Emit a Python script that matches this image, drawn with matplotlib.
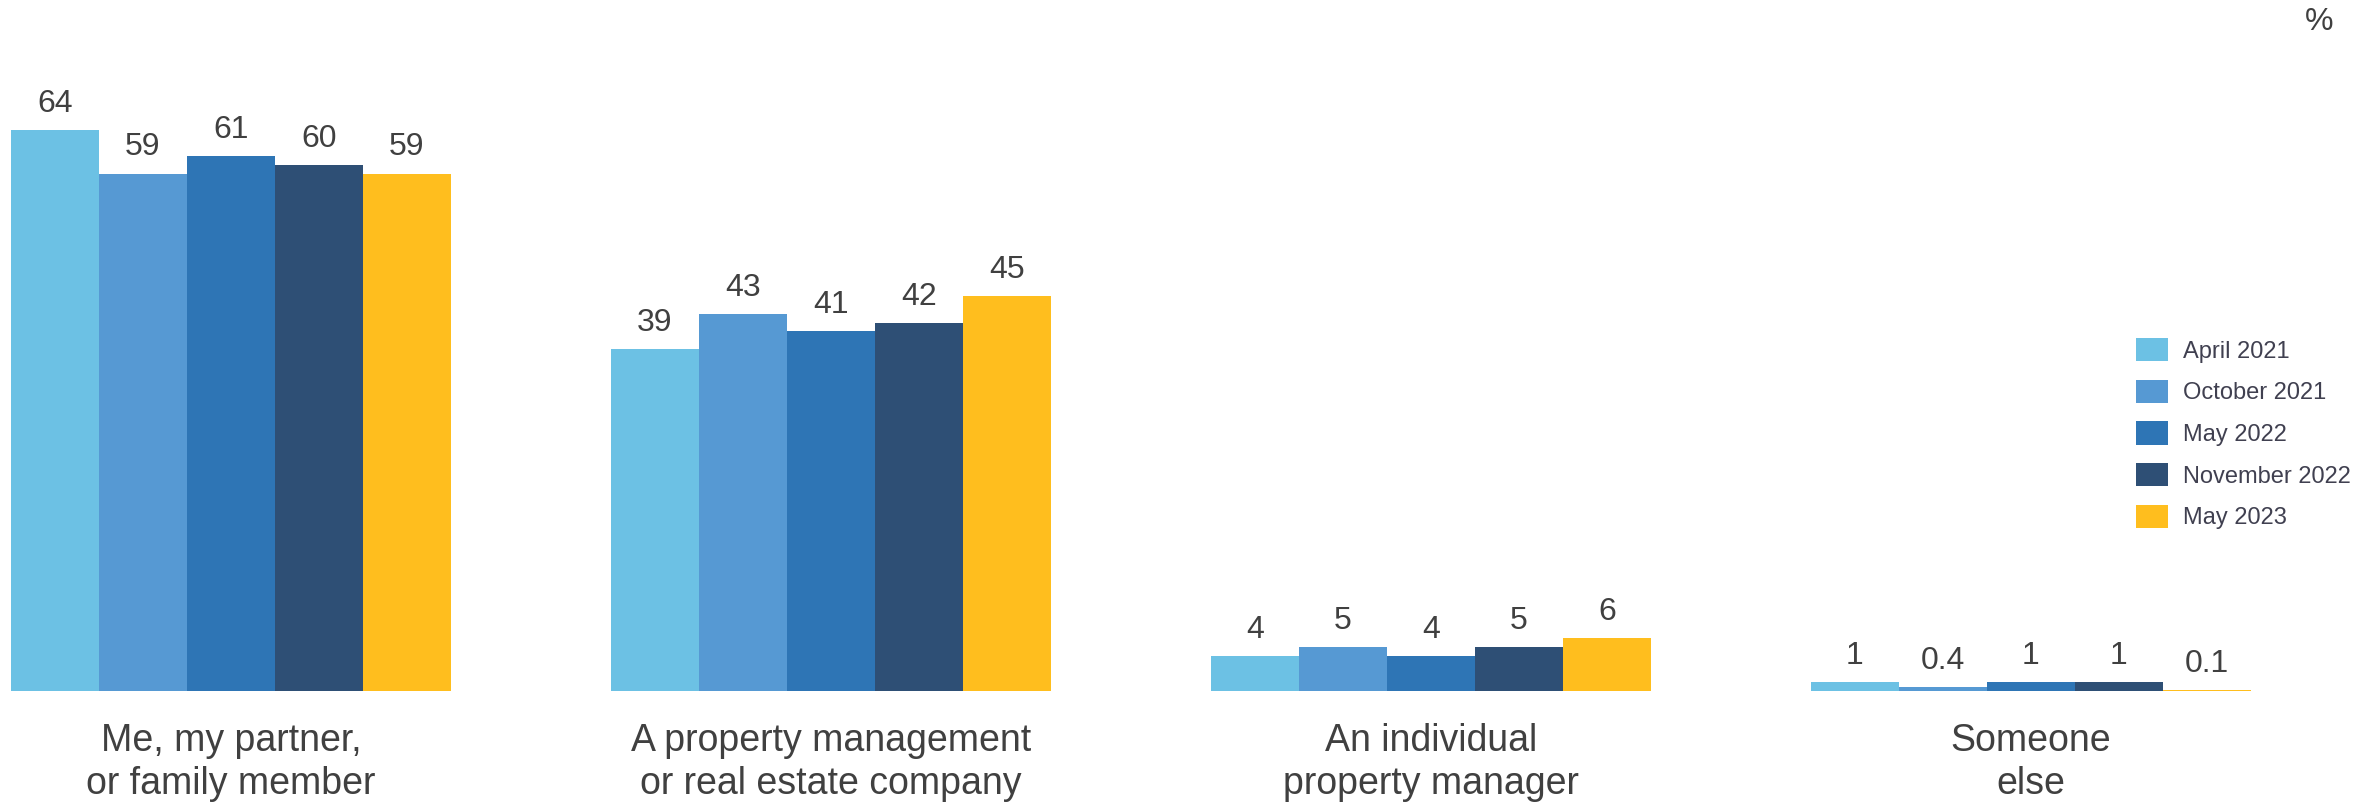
import numpy as np
import matplotlib
matplotlib.use('Agg')
import matplotlib.pyplot as plt
from matplotlib.patches import Patch

plt.rcParams['font.family'] = ['Liberation Sans', 'DejaVu Sans']

# Data
categories = ['Me, my partner,\nor family member',
              'A property management\nor real estate company',
              'An individual\nproperty manager',
              'Someone\nelse']
series = ['April 2021', 'October 2021', 'May 2022', 'November 2022', 'May 2023']
values = [
    [64, 39, 4, 1],
    [59, 43, 5, 0.4],
    [61, 41, 4, 1],
    [60, 42, 5, 1],
    [59, 45, 6, 0.1],
]
colors = ['#6CC1E4', '#5699D3', '#2E75B5', '#2E4F75', '#FFBE1E']

TEXT = '#404040'

W, H = 2379, 802
fig = plt.figure(figsize=(W / 100, H / 100), dpi=100)

# axes in pixel-like units: baseline at y=691 px from top, 8.77 px per unit
base = 691
scale = 8.77
ymax = 70
ax = fig.add_axes([0, (H - base) / H, 1, ymax * scale / H])
ax.set_xlim(0, W)
ax.set_ylim(0, ymax)
ax.axis('off')

bar_w = 88
pitch = 600
first_center = 11 + 2.5 * bar_w
centers = first_center + pitch * np.arange(len(categories))

for j, (name, vals) in enumerate(zip(series, values)):
    xs = centers + (j - 2) * bar_w
    ax.bar(xs, vals, width=bar_w, color=colors[j], label=name)
    for x, v in zip(xs, vals):
        label = f'{v:g}'
        ax.annotate(label, (x, v), xytext=(0, 8), textcoords='offset points',
                    ha='center', va='bottom', fontsize=23, color=TEXT)

for c, cat in zip(centers, categories):
    ax.annotate(cat, (c, 0), xytext=(0, -23), textcoords='offset points',
                ha='center', va='top', fontsize=27, color=TEXT,
                linespacing=1.25)

fig.text(2319 / W, 1 - 22 / H, '%', ha='center', va='center',
         fontsize=23, color=TEXT)

handles = [Patch(facecolor=c, edgecolor='none') for c in colors]
fig.legend(handles, series, loc='upper left',
           bbox_to_anchor=(2136 / W, 1 - 338 / H), bbox_transform=fig.transFigure,
           frameon=False, fontsize=17, handlelength=1.36, handleheight=1.14,
           handletextpad=0.64, labelspacing=0.72, borderpad=0, borderaxespad=0,
           labelcolor='#404050')

fig.savefig('out.png', dpi=100)
